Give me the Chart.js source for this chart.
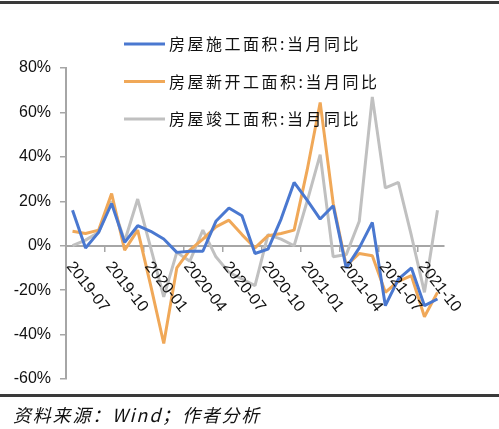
<!DOCTYPE html>
<html>
<head>
<meta charset="utf-8">
<script src="https://cdn.jsdelivr.net/npm/chart.js@4"></script>
<style>
  body { margin: 0; background: #fff; }
  .wrap { position: relative; width: 499px; height: 429px; overflow: hidden; }
  .wrap canvas { position: absolute; left: 0; top: 0; }
  .rule { position: absolute; left: 0; width: 499px; height: 3px; background: #3a3a3a; }
  .source { position: absolute; left: 13px; top: 401px; font: italic 18px "Noto Sans CJK SC", sans-serif;
            letter-spacing: 1.8px; color: #111; white-space: nowrap; }
</style>
</head>
<body>
<div class="wrap">
  <canvas class="chart-js" width="499" height="429"></canvas>
  <div class="rule" style="top:1px"></div>
  <div class="rule" style="top:394px"></div>
  <div class="source">资料来源：Wind；作者分析</div>
</div>
<script>
const months = ['2019-07','2019-08','2019-09','2019-10','2019-11','2019-12',
  '2020-01','2020-02','2020-03','2020-04','2020-05','2020-06','2020-07','2020-08','2020-09',
  '2020-10','2020-11','2020-12','2021-01','2021-02','2021-03','2021-04','2021-05','2021-06',
  '2021-07','2021-08','2021-09','2021-10','2021-11'];

const seriesNames = ['房屋施工面积:当月同比', '房屋新开工面积:当月同比', '房屋竣工面积:当月同比'];

// 当月同比, %
const construction = [16, -1, 6, 19, 1.5, 9, 6.5, 3, -3, -2.5, -2.5, 11, 17, 13.5, -3.5,
  -1.5, 12, 28.5, 20.5, 12, 18, -10, -1, 10.5, -27, -15, -10, -27, -24];
const newStarts = [6.5, 5.5, 7, 23.5, -2, 7, -18, -44, -10, -2, 3, 8.5, 11.5, 5, -1,
  4.5, 5.5, 7, 34, 64.5, 19, -9, -3.5, -4.5, -21, -16, -13.5, -32, -21];
const completed = [0, 2.5, 6, 20, 2, 21, -1, -23, -3, -7, 7, -5, -12, -15, -18,
  5, 3, 0, 20, 41, -5, -4, 11, 67, 26, 28.5, 4.5, -21, 16];

const yTicks = [-60, -40, -20, 0, 20, 40, 60, 80];
const colors = ['#4a78d0', '#f0a858', '#c0c0c0'];
const AXIS_GREY = '#a6a6a6';

const ctx = document.querySelector('.chart-js').getContext('2d');

// x labels rotated clockwise, every third month, hanging below the zero line
const monthLabels = {
    id: 'monthLabels',
    afterDraw(chart) {
        const { ctx, scales: { x, y } } = chart;
        const zeroY = y.getPixelForValue(0);
        ctx.save();
        ctx.font = '16px "Liberation Sans", Arial, sans-serif';
        ctx.fillStyle = '#111';
        ctx.textAlign = 'left';
        ctx.textBaseline = 'middle';
        months.forEach((m, i) => {
            if (i % 3 !== 0) return;
            ctx.save();
            ctx.translate(x.getPixelForValue(i) - 3, zeroY + 18);
            ctx.rotate(52 * Math.PI / 180);
            ctx.fillText(m, 0, 0);
            ctx.restore();
        });
        ctx.restore();
    }
};

// stacked legend sitting inside the plot
const stackedLegend = {
    id: 'stackedLegend',
    afterDatasetsDraw(chart) {
        const c = chart.ctx;
        c.save();
        c.font = '16px "Noto Sans CJK SC", sans-serif';
        c.letterSpacing = '2.5px';
        c.textBaseline = 'middle';
        c.fillStyle = '#111';
        chart.data.datasets.forEach((ds, i) => {
            const yy = 44 + i * 37.5;
            c.strokeStyle = ds.borderColor;
            c.lineWidth = 3;
            c.beginPath();
            c.moveTo(124, yy);
            c.lineTo(165, yy);
            c.stroke();
            c.fillText(ds.label, 169, yy);
        });
        c.restore();
    }
};

new Chart(ctx, {
    type: 'line',
    data: {
        labels: months,
        datasets: [
            { label: seriesNames[0], data: construction, borderColor: colors[0] },
            { label: seriesNames[1], data: newStarts, borderColor: colors[1] },
            { label: seriesNames[2], data: completed, borderColor: colors[2] }
        ].map(d => Object.assign(d, {
            borderWidth: 3,
            pointRadius: 0,
            tension: 0,
            fill: false,
            borderJoinStyle: 'bevel'
        }))
    },
    options: {
        responsive: false,
        animation: false,
        layout: { padding: { left: 0, top: 68, right: 55, bottom: 50 } },
        plugins: { legend: { display: false }, tooltip: { enabled: false } },
        scales: {
            x: {
                position: { y: 0 },
                offset: true,
                ticks: { display: false, autoSkip: false },
                grid: {
                    offset: true,
                    drawOnChartArea: false,
                    drawTicks: true,
                    tickLength: 5,
                    lineWidth: 1.5,
                    color: c => (c.index % 3 === 0 ? AXIS_GREY : 'rgba(0,0,0,0)')
                },
                border: { display: true, color: AXIS_GREY, width: 2 },
                afterFit(scale) { scale.height = 0; }
            },
            y: {
                min: yTicks[0],
                max: yTicks[yTicks.length - 1],
                afterBuildTicks(scale) { scale.ticks = yTicks.map(v => ({ value: v })); },
                ticks: {
                    padding: 9,
                    color: '#111',
                    font: { family: '"Liberation Sans", Arial, sans-serif', size: 16 },
                    callback(value) { return value + '%'; }
                },
                grid: {
                    drawOnChartArea: false,
                    drawTicks: true,
                    tickLength: 6,
                    lineWidth: 1.5,
                    color: AXIS_GREY
                },
                border: { display: true, color: AXIS_GREY, width: 2 },
                afterFit(scale) { scale.width = 66; }
            }
        }
    },
    plugins: [monthLabels, stackedLegend]
});
</script>
</body>
</html>
